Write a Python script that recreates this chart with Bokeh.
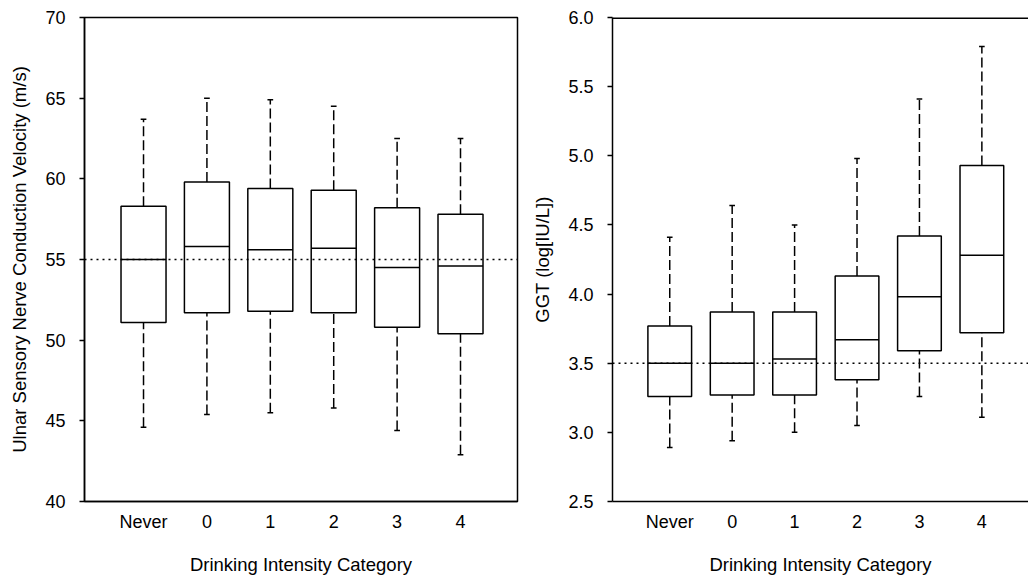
from bokeh.plotting import figure
from bokeh.layouts import row
from bokeh.models import FixedTicker, Span, Range1d, NumeralTickFormatter
from bokeh.embed import file_html
from bokeh.resources import INLINE

categories = ["Never", "0", "1", "2", "3", "4"]

# Left panel: Ulnar sensory nerve conduction velocity (m/s)
ncv_low = [44.6, 45.4, 45.5, 45.8, 44.4, 42.9]
ncv_q1 = [51.1, 51.7, 51.8, 51.7, 50.8, 50.4]
ncv_med = [55.0, 55.8, 55.6, 55.7, 54.5, 54.6]
ncv_q3 = [58.3, 59.8, 59.4, 59.3, 58.2, 57.8]
ncv_high = [63.7, 65.0, 64.9, 64.5, 62.5, 62.5]
ncv_ref = 55.0

# Right panel: GGT (log[IU/L])
ggt_low = [2.89, 2.94, 3.00, 3.05, 3.26, 3.11]
ggt_q1 = [3.26, 3.27, 3.27, 3.38, 3.59, 3.72]
ggt_med = [3.50, 3.50, 3.53, 3.67, 3.98, 4.28]
ggt_q3 = [3.77, 3.87, 3.87, 4.13, 4.42, 4.93]
ggt_high = [4.41, 4.64, 4.50, 4.98, 5.41, 5.79]
ggt_ref = 3.5

x_title = "Drinking Intensity Category"

FONT = "Liberation Sans"
FS = "18px"
FSL = "18.5px"
xs = list(range(1, len(categories) + 1))


def boxes(p, low, q1, med, q3, high, bw):
    p.segment(xs, q3, xs, high, line_color="black", line_width=1.5, line_dash="10 4")
    p.segment(xs, low, xs, q1, line_color="black", line_width=1.5, line_dash="10 4")
    cw = 0.045
    p.segment([x - cw for x in xs], high, [x + cw for x in xs], high, line_color="black", line_width=1.5)
    p.segment([x - cw for x in xs], low, [x + cw for x in xs], low, line_color="black", line_width=1.5)
    p.quad(left=[x - bw / 2 for x in xs], right=[x + bw / 2 for x in xs], bottom=q1, top=q3,
           fill_color="white", line_color="black", line_width=1.5)
    p.segment([x - bw / 2 for x in xs], med, [x + bw / 2 for x in xs], med, line_color="black", line_width=1.5)


def style(p, yticks, ylabel, fmt=None):
    p.grid.visible = False
    p.background_fill_color = "white"
    p.border_fill_color = "white"
    xa = p.xaxis[0]
    xa.ticker = FixedTicker(ticks=xs)
    xa.major_label_overrides = {x: c for x, c in zip(xs, categories)}
    xa.major_tick_line_color = None
    xa.minor_tick_line_color = None
    xa.major_tick_out = 0
    xa.major_tick_in = 0
    xa.major_label_standoff = 10
    xa.major_label_text_font = FONT
    xa.major_label_text_font_size = FS
    xa.major_label_text_color = "black"
    xa.axis_line_width = 1.5
    xa.axis_line_color = "black"
    xa.axis_label = x_title
    xa.axis_label_text_font = FONT
    xa.axis_label_text_font_size = FSL
    xa.axis_label_text_font_style = "normal"
    xa.axis_label_text_color = "black"
    xa.axis_label_standoff = 19
    ya = p.yaxis[0]
    ya.ticker = FixedTicker(ticks=yticks)
    if fmt:
        ya.formatter = NumeralTickFormatter(format=fmt)
    ya.minor_tick_line_color = None
    ya.major_tick_out = 5
    ya.major_tick_in = 0
    ya.major_tick_line_width = 1.5
    ya.major_tick_line_color = "black"
    ya.major_label_standoff = 14
    ya.major_label_text_font = FONT
    ya.major_label_text_font_size = FS
    ya.major_label_text_color = "black"
    ya.axis_line_width = 1.5
    ya.axis_line_color = "black"
    ya.axis_label = ylabel
    ya.axis_label_text_font = FONT
    ya.axis_label_text_font_size = FSL
    ya.axis_label_text_font_style = "normal"
    ya.axis_label_text_color = "black"
    ya.axis_label_standoff = 12


H = 577
# Left figure
p1 = figure(width=529, height=H, output_backend="svg", toolbar_location=None,
            x_range=Range1d(0.069, 6.899), y_range=Range1d(40, 70),
            min_border_left=84, min_border_right=12, min_border_top=17, min_border_bottom=76)
p1.outline_line_color = "black"
p1.outline_line_width = 1.5
style(p1, [40, 45, 50, 55, 60, 65, 70], "Ulnar Sensory Nerve Conduction Velocity (m/s)")
p1.add_layout(Span(location=ncv_ref, dimension="width", line_color="black",
                   line_width=1.5, line_dash="2 4"))
boxes(p1, ncv_low, ncv_q1, ncv_med, ncv_q3, ncv_high, 0.71)

# Right figure
p2 = figure(width=499, height=H, output_backend="svg", toolbar_location=None,
            x_range=Range1d(0.083, 6.747), y_range=Range1d(2.5, 6.0),
            min_border_left=80, min_border_right=0, min_border_top=17, min_border_bottom=76)
p2.outline_line_color = None
style(p2, [2.5, 3.0, 3.5, 4.0, 4.5, 5.0, 5.5, 6.0], "GGT (log[IU/L])", fmt="0.0")
p2.add_layout(Span(location=6.0, dimension="width", line_color="black", line_width=3))
p2.add_layout(Span(location=ggt_ref, dimension="width", line_color="black",
                   line_width=1.5, line_dash="2 4"))
boxes(p2, ggt_low, ggt_q1, ggt_med, ggt_q3, ggt_high, 0.70)

layout = row(p1, p2)
open("out.html", "w").write(file_html(layout, INLINE))
